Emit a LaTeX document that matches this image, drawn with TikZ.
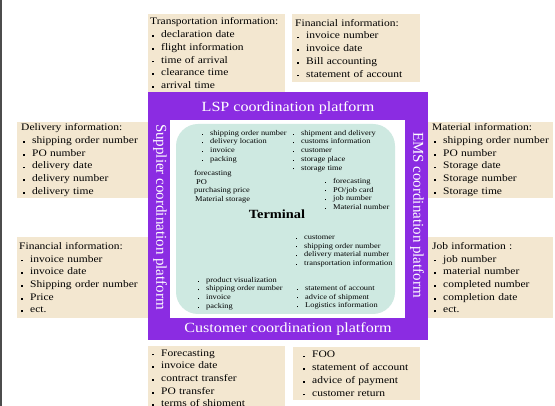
\documentclass[tikz,border=0pt]{standalone}
\usepackage{fontspec}
\setmainfont[FakeStretch=1.15]{Liberation Serif}
\newfontfamily\upserif{Liberation Serif}
\definecolor{boxtan}{RGB}{243,231,208}
\definecolor{termteal}{RGB}{206,233,225}
\definecolor{platpurple}{RGB}{139,44,226}
\newcommand{\bul}{\hspace*{2pt}\makebox[9pt][l]{\raisebox{0.6pt}{\rule{1.8pt}{1.8pt}}}}
\newcommand{\sbul}{\makebox[8pt][l]{\raisebox{0.6pt}{\rule{1.1pt}{1.1pt}}}}
\begin{document}
\begin{tikzpicture}[x=1pt,y=-1pt,
info/.style ={rectangle, fill=boxtan, anchor=north west,
  inner ysep=0pt, align=left,
  font=\fontsize{10}{12.7}\selectfont
},
tiny/.style ={anchor=north west, inner sep=0pt, align=left,
  font=\fontsize{7.3}{8.7}\selectfont
},
plat/.style ={text=white, font=\fontsize{14}{16}\selectfont},
platv/.style ={text=white, font=\upserif\fontsize{15}{17}\selectfont, rotate=-90}]
\useasboundingbox (0,0) rectangle (555,406);
\draw[gray!60!black, line width=2pt] (1,0) -- (1,406);
% platforms and terminal
\node (frame) at (288,216) [rectangle, fill=platpurple, minimum width=280pt, minimum height=248pt, inner sep=0pt] {};
\node (inner) at (287.5,219) [rectangle, fill=white, minimum width=235pt, minimum height=198pt, inner sep=0pt] {};
\node (term) at (285.5,219) [rectangle, fill=termteal, rounded corners=22pt, minimum width=219pt, minimum height=190pt, inner sep=0pt] {};
\node (lsp) at (288,108) [plat] {LSP coordination platform};
\node (cust) at (288,329) [plat] {Customer coordination platform};
\node (supp) at (160,217) [platv] {Supplier coordination platform};
\node (ems) at (417,215) [platv] {EMS coordination platform};
\node (terminal) at (277,214) [font=\bfseries\fontsize{12.5}{14}\selectfont] {Terminal};
% information boxes
\node (trans) at (148,14) [info, inner xsep=2pt, text width=133pt, minimum height=78pt] {Transportation information:\\
\bul declaration date\\ \bul flight information\\ \bul time of arrival\\ \bul clearance time\\ \bul arrival time};
\node (fintop) at (292,14) [info, inner xsep=3pt, text width=122pt, minimum height=68pt] {Financial information:\\
\bul invoice number\\ \bul invoice date\\ \bul Bill accounting\\ \bul statement of account};
\node (deliv) at (17,122) [info, inner xsep=4pt, text width=123pt, minimum height=76pt] {Delivery information:\\
\bul shipping order number\\ \bul PO number\\ \bul delivery date\\ \bul delivery number\\ \bul delivery time};
\node (mat) at (428,122) [info, inner xsep=4pt, text width=117pt, minimum height=76pt] {Material information:\\
\bul shipping order number\\ \bul PO number\\ \bul Storage date\\ \bul Storage number\\ \bul Storage time};
\node (finleft) at (17,237) [info, inner xsep=2pt, text width=127pt, minimum height=81pt] {Financial information:\\
\bul invoice number\\ \bul invoice date\\ \bul Shipping order number\\ \bul Price\\ \bul ect.};
\node (job) at (428,237) [info, inner xsep=4pt, text width=117pt, minimum height=81pt] {Job information :\\
\bul job number\\ \bul material number\\ \bul completed number\\ \bul completion date\\ \bul ect.};
\node (botleft) at (148,346) [info, inner xsep=2pt, text width=133pt, minimum height=66pt] {\bul Forecasting\\
\bul invoice date\\ \bul contract transfer\\ \bul PO transfer\\ \bul terms of shipment};
\node (botright) at (293,347) [info, inner xsep=8pt, text width=111pt, minimum height=53pt] {\bul FOO\\
\bul statement of account\\ \bul advice of payment\\ \bul customer return};
% terminal data
\node (tla) at (202,130) [tiny] {\sbul shipping order number\\ \sbul delivery location\\ \sbul invoice\\ \sbul packing};
\node (tlb) at (194,170) [tiny] {forecasting\\ \hspace*{2pt}PO\\ purchasing price\\ \hspace*{1pt}Material storage};
\node (tra) at (293,130) [tiny] {\sbul shipment and delivery\\ \sbul customs information\\ \sbul customer\\ \sbul storage place\\ \sbul storage time};
\node (trb) at (325,178) [tiny] {\sbul forecasting\\ \sbul PO/job card\\ \sbul job number\\ \sbul Material number};
\node (bra) at (296,235) [tiny] {\sbul customer\\ \sbul shipping order number\\ \sbul delivery material number\\ \sbul transportation information};
\node (brb) at (297,285) [tiny] {\sbul statement of account\\ \sbul advice of shipment\\ \sbul Logistics information};
\node (bla) at (198,277) [tiny] {\sbul product visualization\\ \sbul shipping order number\\ \sbul invoice\\ \sbul packing};
\end{tikzpicture}
\end{document}
